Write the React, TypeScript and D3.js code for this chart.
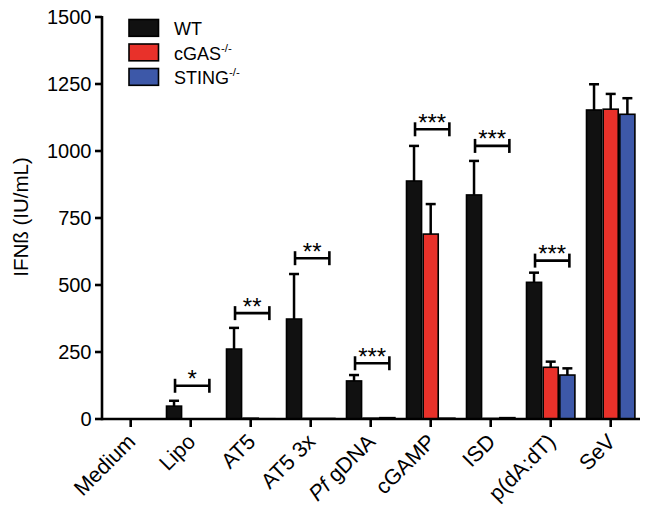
import React, { useEffect, useRef } from 'react';
import * as d3 from 'd3';

const categories = ['Medium', 'Lipo', 'AT5', 'AT5 3x', 'Pf gDNA', 'cGAMP', 'ISD', 'p(dA:dT)', 'SeV'];
const seriesNames = ['WT', 'cGAS', 'STING'];
const wtValues = [0, 48, 261, 373, 142, 888, 836, 510, 1153];
const wtErrors = [0, 20, 79, 168, 22, 131, 127, 36, 96];
const cgasValues = [0, 0, 3, 2, 3, 690, 2, 193, 1156];
const cgasErrors = [0, 0, 0, 0, 0, 112, 0, 21, 57];
const stingValues = [0, 0, 1, 2, 5, 3, 5, 164, 1137];
const stingErrors = [0, 0, 0, 0, 0, 0, 0, 25, 60];
const yTicks = [0, 250, 500, 750, 1000, 1250, 1500];
const sigCategories = ['Lipo', 'AT5', 'AT5 3x', 'Pf gDNA', 'cGAMP', 'ISD', 'p(dA:dT)'];
const sigLabels = ['*', '**', '**', '***', '***', '***', '***'];
const sigLevels = [124, 395, 600, 208, 1081, 1019, 591];
const colors = ['#111111', '#e8312a', '#3d58a8'];

const App = () => {
  const svgRef = useRef(null);

  useEffect(() => {
    const svg = d3.select(svgRef.current);
    svg.selectAll('*').remove();
    const font = 'Liberation Sans, Arial, Helvetica, sans-serif';

    const x = d3.scaleBand().domain(categories).range([100.7, 640.7]).paddingInner(1 / 6).paddingOuter(1 / 12);
    const xs = d3.scaleBand().domain(seriesNames).range([0, x.bandwidth()]);
    const y = d3.scaleLinear().domain([0, 1500]).range([419, 17]);

    const values = [wtValues, cgasValues, stingValues];
    const errors = [wtErrors, cgasErrors, stingErrors];

    // bars and error bars
    values.forEach((vals, s) => {
      const g = svg.append('g');
      categories.forEach((c, i) => {
        const bx = x(c) + xs(seriesNames[s]);
        const w = xs.bandwidth();
        const v = vals[i];
        if (errors[s][i] > 0) {
          const cx = bx + w / 2;
          g.append('line').attr('x1', cx).attr('x2', cx)
            .attr('y1', y(v)).attr('y2', y(v + errors[s][i]))
            .attr('stroke', '#000').attr('stroke-width', 2.5);
          g.append('line').attr('x1', cx - 5).attr('x2', cx + 5)
            .attr('y1', y(v + errors[s][i])).attr('y2', y(v + errors[s][i]))
            .attr('stroke', '#000').attr('stroke-width', 2.5);
        }
        if (v > 0) {
          g.append('rect')
            .attr('x', bx + 0.8).attr('y', y(v))
            .attr('width', w - 1.6).attr('height', y(0) - y(v))
            .attr('fill', colors[s]).attr('stroke', '#000').attr('stroke-width', 1.6);
        }
      });
    });

    // significance brackets
    sigCategories.forEach((c, i) => {
      const x1 = x(c) + xs('WT') + xs.bandwidth() / 2 + 1;
      const x2 = x(c) + xs('STING') + xs.bandwidth() / 2 + 2;
      const yy = y(sigLevels[i]);
      const g = svg.append('g').attr('stroke', '#000').attr('stroke-width', 2.6);
      g.append('line').attr('x1', x1).attr('x2', x2).attr('y1', yy).attr('y2', yy);
      g.append('line').attr('x1', x1).attr('x2', x1).attr('y1', yy - 7).attr('y2', yy + 7);
      g.append('line').attr('x1', x2).attr('x2', x2).attr('y1', yy - 7).attr('y2', yy + 7);
      svg.append('text')
        .attr('x', (x1 + x2) / 2).attr('y', yy + 1.5)
        .attr('text-anchor', 'middle')
        .attr('font-family', font).attr('font-size', 24)
        .text(sigLabels[i]);
    });

    // axes
    const axisG = svg.append('g');
    axisG.append('line').attr('x1', 102).attr('x2', 102).attr('y1', 16).attr('y2', 420.3)
      .attr('stroke', '#000').attr('stroke-width', 2.6);
    axisG.append('line').attr('x1', 102).attr('x2', 640).attr('y1', 419).attr('y2', 419)
      .attr('stroke', '#000').attr('stroke-width', 2.6);
    yTicks.forEach((t) => {
      axisG.append('line').attr('x1', 95).attr('x2', 102).attr('y1', y(t)).attr('y2', y(t))
        .attr('stroke', '#000').attr('stroke-width', 2.6);
      axisG.append('text').attr('x', 91.5).attr('y', y(t)).attr('dy', '0.36em')
        .attr('text-anchor', 'end').attr('font-family', font).attr('font-size', 20)
        .text(t);
    });
    categories.forEach((c) => {
      const cx = x(c) + x.bandwidth() / 2;
      axisG.append('line').attr('x1', cx).attr('x2', cx).attr('y1', 419).attr('y2', 427)
        .attr('stroke', '#000').attr('stroke-width', 2.6);
      const t = axisG.append('text')
        .attr('transform', `translate(${cx + 6},${443}) rotate(-45)`)
        .attr('text-anchor', 'end').attr('font-family', font).attr('font-size', 21.5);
      if (c === 'Pf gDNA') {
        t.append('tspan').attr('font-style', 'italic').text('Pf');
        t.append('tspan').text(' gDNA');
      } else {
        t.text(c);
      }
    });

    svg.append('text')
      .attr('transform', `translate(${28},${217}) rotate(-90)`)
      .attr('text-anchor', 'middle').attr('font-family', font).attr('font-size', 20.5)
      .text('IFNß (IU/mL)');

    // legend
    const legendLabels = ['WT', 'cGAS', 'STING'];
    legendLabels.forEach((l, i) => {
      const ly = 19.5 + i * 24.5;
      svg.append('rect').attr('x', 129).attr('y', ly).attr('width', 29.5).attr('height', 16.8)
        .attr('fill', colors[i]).attr('stroke', '#000').attr('stroke-width', 1.6);
      const t = svg.append('text').attr('x', 174).attr('y', ly + 15.5)
        .attr('font-family', font).attr('font-size', 18);
      t.append('tspan').text(l);
      if (i > 0) {
        t.append('tspan').attr('font-size', 11.5).attr('dy', -8).text('-/-');
      }
    });
  }, []);

  return <svg ref={svgRef} width={649} height={516} style={{ position: 'absolute', left: 0, top: 0 }} />;
};

export default App;
